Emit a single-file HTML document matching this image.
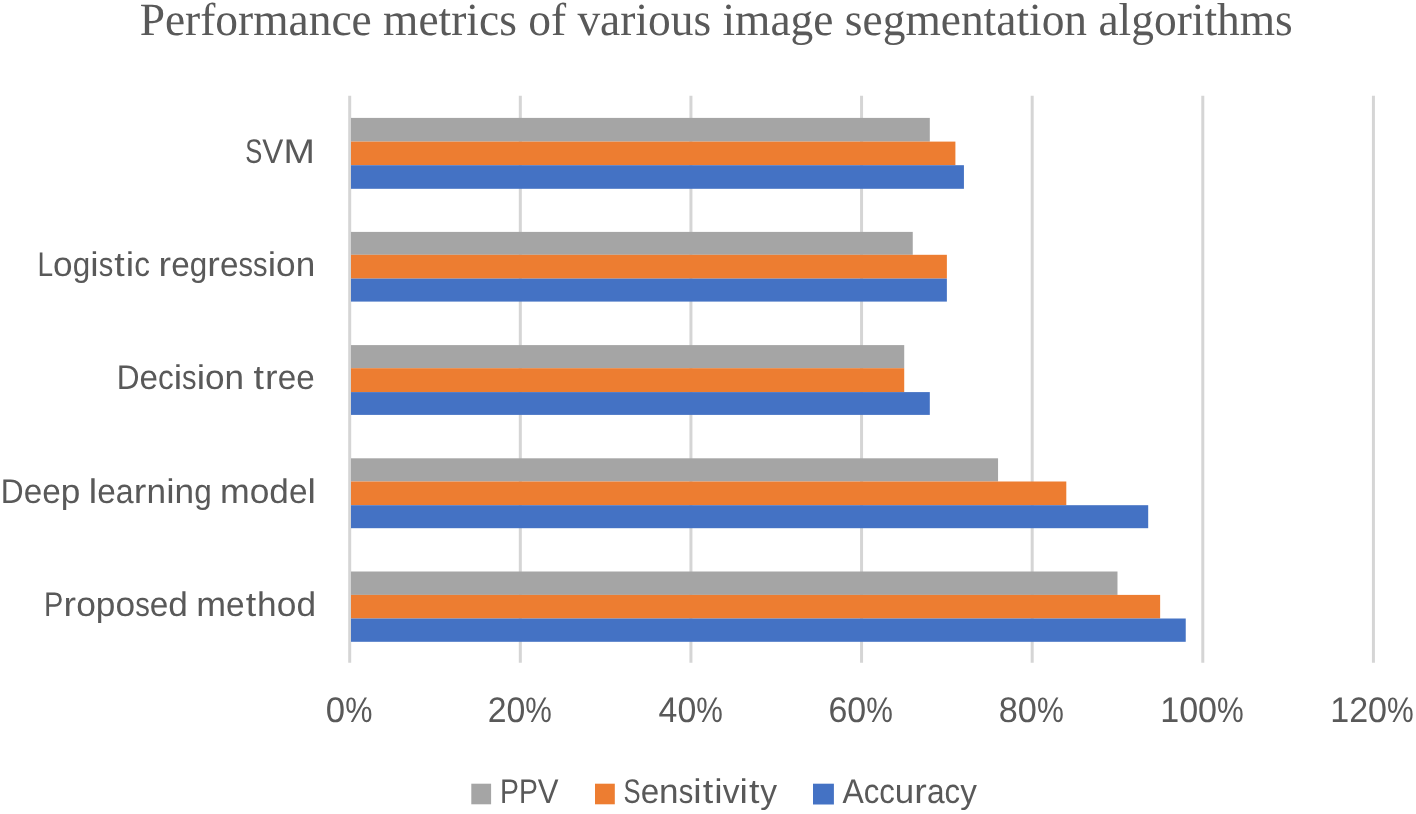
<!DOCTYPE html>
<html lang="en">
<head>
<meta charset="utf-8">
<title>Performance metrics of various image segmentation algorithms</title>
<style>
html,body{margin:0;padding:0;background:#fff;}
body{width:1416px;height:814px;overflow:hidden;}
svg{display:block;}
.t{font-family:"Liberation Serif",serif;fill:#595959;text-rendering:geometricPrecision;}
.s{font-family:"Liberation Sans",sans-serif;fill:#595959;text-rendering:geometricPrecision;}
</style>
</head>
<body>
<svg width="1416" height="814" viewBox="0 0 1416 814">
<rect x="0" y="0" width="1416" height="814" fill="#ffffff"/>

<g stroke="#D5D5D5" stroke-width="3">
<line x1="349.70" y1="95.8" x2="349.70" y2="662.7"/>
<line x1="520.32" y1="95.8" x2="520.32" y2="662.7"/>
<line x1="690.94" y1="95.8" x2="690.94" y2="662.7"/>
<line x1="861.56" y1="95.8" x2="861.56" y2="662.7"/>
<line x1="1032.18" y1="95.8" x2="1032.18" y2="662.7"/>
<line x1="1202.80" y1="95.8" x2="1202.80" y2="662.7"/>
<line x1="1373.42" y1="95.8" x2="1373.42" y2="662.7"/>
</g>
<g>
<rect x="351.00" y="117.90" width="578.81" height="23.70" fill="#A5A5A5"/>
<rect x="351.00" y="141.60" width="604.40" height="23.60" fill="#ED7D31"/>
<rect x="351.00" y="165.20" width="612.93" height="23.60" fill="#4472C4"/>
</g>
<g>
<rect x="351.00" y="231.90" width="561.75" height="22.90" fill="#A5A5A5"/>
<rect x="351.00" y="254.80" width="595.87" height="23.80" fill="#ED7D31"/>
<rect x="351.00" y="278.60" width="595.87" height="23.00" fill="#4472C4"/>
</g>
<g>
<rect x="351.00" y="345.10" width="553.22" height="23.10" fill="#A5A5A5"/>
<rect x="351.00" y="368.20" width="553.22" height="23.90" fill="#ED7D31"/>
<rect x="351.00" y="392.10" width="578.81" height="22.80" fill="#4472C4"/>
</g>
<g>
<rect x="351.00" y="458.30" width="647.06" height="23.20" fill="#A5A5A5"/>
<rect x="351.00" y="481.50" width="715.30" height="23.70" fill="#ED7D31"/>
<rect x="351.00" y="505.20" width="797.20" height="23.00" fill="#4472C4"/>
</g>
<g>
<rect x="351.00" y="571.50" width="766.49" height="23.40" fill="#A5A5A5"/>
<rect x="351.00" y="594.90" width="809.14" height="23.60" fill="#ED7D31"/>
<rect x="351.00" y="618.50" width="834.74" height="23.30" fill="#4472C4"/>
</g>
<g>
<text class="t" x="139.68" y="34.50" font-size="46.2" textLength="1153.10" lengthAdjust="spacingAndGlyphs">Performance metrics of various image segmentation algorithms</text>
<text class="s" y="163.40" font-size="34.2"><tspan x="245.20" textLength="17.05" lengthAdjust="spacingAndGlyphs">S</tspan><tspan x="262.24" textLength="21.06" lengthAdjust="spacingAndGlyphs">V</tspan><tspan x="283.47" textLength="31.36" lengthAdjust="spacingAndGlyphs">M</tspan></text>
<text class="s" y="276.00" font-size="34.2"><tspan x="37.49" textLength="15.61" lengthAdjust="spacingAndGlyphs">L</tspan><tspan x="53.09" textLength="19.59" lengthAdjust="spacingAndGlyphs">o</tspan><tspan x="72.66" textLength="17.50" lengthAdjust="spacingAndGlyphs">g</tspan><tspan x="90.23" textLength="8.37" lengthAdjust="spacingAndGlyphs">i</tspan><tspan x="98.66" textLength="14.53" lengthAdjust="spacingAndGlyphs">s</tspan><tspan x="114.18" textLength="10.47" lengthAdjust="spacingAndGlyphs">t</tspan><tspan x="125.69" textLength="8.37" lengthAdjust="spacingAndGlyphs">i</tspan><tspan x="134.14" textLength="15.71" lengthAdjust="spacingAndGlyphs">c</tspan><tspan> </tspan><tspan x="158.44" textLength="12.55" lengthAdjust="spacingAndGlyphs">r</tspan><tspan x="171.17" textLength="18.50" lengthAdjust="spacingAndGlyphs">e</tspan><tspan x="189.65" textLength="17.48" lengthAdjust="spacingAndGlyphs">g</tspan><tspan x="207.33" textLength="12.55" lengthAdjust="spacingAndGlyphs">r</tspan><tspan x="220.07" textLength="18.48" lengthAdjust="spacingAndGlyphs">e</tspan><tspan x="238.54" textLength="14.53" lengthAdjust="spacingAndGlyphs">s</tspan><tspan x="253.06" textLength="14.53" lengthAdjust="spacingAndGlyphs">s</tspan><tspan x="267.66" textLength="8.37" lengthAdjust="spacingAndGlyphs">i</tspan><tspan x="276.10" textLength="19.59" lengthAdjust="spacingAndGlyphs">o</tspan><tspan x="295.68" textLength="19.51" lengthAdjust="spacingAndGlyphs">n</tspan></text>
<text class="s" y="389.30" font-size="34.2"><tspan x="116.68" textLength="22.81" lengthAdjust="spacingAndGlyphs">D</tspan><tspan x="139.47" textLength="18.45" lengthAdjust="spacingAndGlyphs">e</tspan><tspan x="157.91" textLength="15.70" lengthAdjust="spacingAndGlyphs">c</tspan><tspan x="173.65" textLength="8.39" lengthAdjust="spacingAndGlyphs">i</tspan><tspan x="182.08" textLength="14.51" lengthAdjust="spacingAndGlyphs">s</tspan><tspan x="196.66" textLength="8.37" lengthAdjust="spacingAndGlyphs">i</tspan><tspan x="205.08" textLength="19.56" lengthAdjust="spacingAndGlyphs">o</tspan><tspan x="224.63" textLength="19.49" lengthAdjust="spacingAndGlyphs">n</tspan><tspan> </tspan><tspan x="253.46" textLength="10.47" lengthAdjust="spacingAndGlyphs">t</tspan><tspan x="265.09" textLength="12.55" lengthAdjust="spacingAndGlyphs">r</tspan><tspan x="277.82" textLength="18.45" lengthAdjust="spacingAndGlyphs">e</tspan><tspan x="296.25" textLength="18.45" lengthAdjust="spacingAndGlyphs">e</tspan></text>
<text class="s" y="503.00" font-size="34.2"><tspan x="0.87" textLength="22.89" lengthAdjust="spacingAndGlyphs">D</tspan><tspan x="23.75" textLength="18.52" lengthAdjust="spacingAndGlyphs">e</tspan><tspan x="42.25" textLength="18.53" lengthAdjust="spacingAndGlyphs">e</tspan><tspan x="60.76" textLength="19.55" lengthAdjust="spacingAndGlyphs">p</tspan><tspan> </tspan><tspan x="88.79" textLength="8.38" lengthAdjust="spacingAndGlyphs">l</tspan><tspan x="97.24" textLength="18.52" lengthAdjust="spacingAndGlyphs">e</tspan><tspan x="115.74" textLength="17.84" lengthAdjust="spacingAndGlyphs">a</tspan><tspan x="133.78" textLength="12.55" lengthAdjust="spacingAndGlyphs">r</tspan><tspan x="146.53" textLength="19.56" lengthAdjust="spacingAndGlyphs">n</tspan><tspan x="166.15" textLength="8.37" lengthAdjust="spacingAndGlyphs">i</tspan><tspan x="174.60" textLength="19.56" lengthAdjust="spacingAndGlyphs">n</tspan><tspan x="194.15" textLength="17.51" lengthAdjust="spacingAndGlyphs">g</tspan><tspan> </tspan><tspan x="220.06" textLength="29.73" lengthAdjust="spacingAndGlyphs">m</tspan><tspan x="249.77" textLength="19.63" lengthAdjust="spacingAndGlyphs">o</tspan><tspan x="269.39" textLength="19.55" lengthAdjust="spacingAndGlyphs">d</tspan><tspan x="288.92" textLength="18.53" lengthAdjust="spacingAndGlyphs">e</tspan><tspan x="307.51" textLength="8.37" lengthAdjust="spacingAndGlyphs">l</tspan></text>
<text class="s" y="616.20" font-size="34.2"><tspan x="43.92" textLength="19.28" lengthAdjust="spacingAndGlyphs">P</tspan><tspan x="63.43" textLength="12.53" lengthAdjust="spacingAndGlyphs">r</tspan><tspan x="76.19" textLength="19.69" lengthAdjust="spacingAndGlyphs">o</tspan><tspan x="95.86" textLength="19.60" lengthAdjust="spacingAndGlyphs">p</tspan><tspan x="115.46" textLength="19.67" lengthAdjust="spacingAndGlyphs">o</tspan><tspan x="135.13" textLength="14.60" lengthAdjust="spacingAndGlyphs">s</tspan><tspan x="149.71" textLength="18.57" lengthAdjust="spacingAndGlyphs">e</tspan><tspan x="168.27" textLength="19.60" lengthAdjust="spacingAndGlyphs">d</tspan><tspan> </tspan><tspan x="196.29" textLength="29.82" lengthAdjust="spacingAndGlyphs">m</tspan><tspan x="226.09" textLength="18.57" lengthAdjust="spacingAndGlyphs">e</tspan><tspan x="245.66" textLength="10.46" lengthAdjust="spacingAndGlyphs">t</tspan><tspan x="257.14" textLength="19.60" lengthAdjust="spacingAndGlyphs">h</tspan><tspan x="276.75" textLength="19.67" lengthAdjust="spacingAndGlyphs">o</tspan><tspan x="296.42" textLength="19.60" lengthAdjust="spacingAndGlyphs">d</tspan></text>
<text class="s" y="721.60" font-size="35.5"><tspan x="325.84" textLength="19.31" lengthAdjust="spacingAndGlyphs">0</tspan><tspan x="345.13" textLength="27.24" lengthAdjust="spacingAndGlyphs">%</tspan></text>
<text class="s" y="721.60" font-size="35.5"><tspan x="487.72" textLength="18.81" lengthAdjust="spacingAndGlyphs">2</tspan><tspan x="506.52" textLength="18.83" lengthAdjust="spacingAndGlyphs">0</tspan><tspan x="525.33" textLength="26.54" lengthAdjust="spacingAndGlyphs">%</tspan></text>
<text class="s" y="721.60" font-size="35.5"><tspan x="658.61" textLength="18.81" lengthAdjust="spacingAndGlyphs">4</tspan><tspan x="677.41" textLength="18.83" lengthAdjust="spacingAndGlyphs">0</tspan><tspan x="696.23" textLength="26.55" lengthAdjust="spacingAndGlyphs">%</tspan></text>
<text class="s" y="721.60" font-size="35.5"><tspan x="828.49" textLength="18.85" lengthAdjust="spacingAndGlyphs">6</tspan><tspan x="847.33" textLength="18.87" lengthAdjust="spacingAndGlyphs">0</tspan><tspan x="866.18" textLength="26.60" lengthAdjust="spacingAndGlyphs">%</tspan></text>
<text class="s" y="721.60" font-size="35.5"><tspan x="998.84" textLength="19.05" lengthAdjust="spacingAndGlyphs">8</tspan><tspan x="1017.87" textLength="19.06" lengthAdjust="spacingAndGlyphs">0</tspan><tspan x="1036.92" textLength="26.87" lengthAdjust="spacingAndGlyphs">%</tspan></text>
<text class="s" y="721.60" font-size="35.5"><tspan x="1160.20" textLength="18.94" lengthAdjust="spacingAndGlyphs">1</tspan><tspan x="1179.13" textLength="18.96" lengthAdjust="spacingAndGlyphs">0</tspan><tspan x="1198.07" textLength="18.96" lengthAdjust="spacingAndGlyphs">0</tspan><tspan x="1217.00" textLength="26.72" lengthAdjust="spacingAndGlyphs">%</tspan></text>
<text class="s" y="721.60" font-size="35.5"><tspan x="1330.20" textLength="18.94" lengthAdjust="spacingAndGlyphs">1</tspan><tspan x="1349.13" textLength="18.96" lengthAdjust="spacingAndGlyphs">2</tspan><tspan x="1368.07" textLength="18.96" lengthAdjust="spacingAndGlyphs">0</tspan><tspan x="1387.00" textLength="26.72" lengthAdjust="spacingAndGlyphs">%</tspan></text>
<text class="s" y="802.90" font-size="34.2"><tspan x="500.07" textLength="18.92" lengthAdjust="spacingAndGlyphs">P</tspan><tspan x="518.97" textLength="18.92" lengthAdjust="spacingAndGlyphs">P</tspan><tspan x="537.87" textLength="20.77" lengthAdjust="spacingAndGlyphs">V</tspan></text>
<text class="s" y="802.90" font-size="34.2"><tspan x="623.60" textLength="17.07" lengthAdjust="spacingAndGlyphs">S</tspan><tspan x="640.65" textLength="18.48" lengthAdjust="spacingAndGlyphs">e</tspan><tspan x="659.14" textLength="19.52" lengthAdjust="spacingAndGlyphs">n</tspan><tspan x="678.64" textLength="14.54" lengthAdjust="spacingAndGlyphs">s</tspan><tspan x="693.24" textLength="8.37" lengthAdjust="spacingAndGlyphs">i</tspan><tspan x="702.67" textLength="10.47" lengthAdjust="spacingAndGlyphs">t</tspan><tspan x="714.20" textLength="8.38" lengthAdjust="spacingAndGlyphs">i</tspan><tspan x="722.63" textLength="16.79" lengthAdjust="spacingAndGlyphs">v</tspan><tspan x="739.49" textLength="8.37" lengthAdjust="spacingAndGlyphs">i</tspan><tspan x="748.92" textLength="10.47" lengthAdjust="spacingAndGlyphs">t</tspan><tspan x="760.37" textLength="16.81" lengthAdjust="spacingAndGlyphs">y</tspan></text>
<text class="s" y="802.90" font-size="34.2"><tspan x="842.45" textLength="21.30" lengthAdjust="spacingAndGlyphs">A</tspan><tspan x="863.73" textLength="15.57" lengthAdjust="spacingAndGlyphs">c</tspan><tspan x="879.28" textLength="15.57" lengthAdjust="spacingAndGlyphs">c</tspan><tspan x="894.83" textLength="19.35" lengthAdjust="spacingAndGlyphs">u</tspan><tspan x="914.31" textLength="12.53" lengthAdjust="spacingAndGlyphs">r</tspan><tspan x="926.98" textLength="17.63" lengthAdjust="spacingAndGlyphs">a</tspan><tspan x="944.61" textLength="15.57" lengthAdjust="spacingAndGlyphs">c</tspan><tspan x="960.16" textLength="16.67" lengthAdjust="spacingAndGlyphs">y</tspan></text>
</g>
<rect x="471.3" y="783.7" width="19.8" height="20.6" fill="#A5A5A5"/>
<rect x="595.0" y="783.7" width="19.8" height="20.6" fill="#ED7D31"/>
<rect x="813.0" y="783.7" width="20.9" height="20.8" fill="#4472C4"/>
</svg>
</body>
</html>
